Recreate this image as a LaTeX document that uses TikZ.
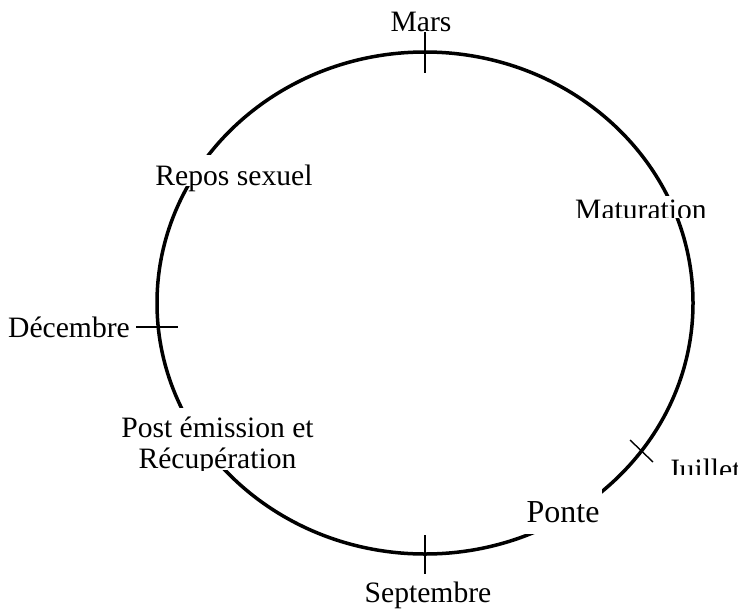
\documentclass[tikz,border=0pt]{standalone}
\usepackage{fontspec}
\setmainfont{Liberation Serif}
\begin{document}
\begin{tikzpicture}[x=1pt,y=-1pt,
  lbl/.style={inner sep=0pt, anchor=base, font=\fontsize{29.6}{33}\selectfont},
  biglbl/.style={inner sep=0pt, anchor=base, font=\fontsize{32}{36}\selectfont},
  ring/.style={line width=3.5pt},
  tick/.style={line width=1.4pt},
  cover/.style={fill=white}]
\useasboundingbox (0,0) rectangle (738,613);
% cycle
\draw[ring] (425,303) ellipse [x radius=268pt, y radius=251pt];
% white label boxes cutting the ring
\fill[cover] (145,155) rectangle (322,186);
\fill[cover] (568,196) rectangle (714,217.5);
\fill[cover] (118,408) rectangle (317,470);
\fill[cover] (520,489) rectangle (602,534);
% ticks
\coordinate (marsA) at (425,32);   \coordinate (marsB) at (425,73);
\coordinate (sepA) at (425,535);   \coordinate (sepB) at (425,574);
\coordinate (decA) at (136,327);   \coordinate (decB) at (178,327);
\coordinate (julA) at (630,440);   \coordinate (julB) at (653,462);
\draw[tick] (marsA) -- (marsB);
\draw[tick] (sepA) -- (sepB);
\draw[tick] (decA) -- (decB);
\draw[tick] (julA) -- (julB);
% month labels
\node[lbl] (mars) at (421,31) {Mars};
\node[lbl] (sept) at (428,602) {Septembre};
\node[lbl] (dec) at (69,337) {Décembre};
\begin{scope}
\clip (660,452) rectangle (738,474);
\node[lbl, anchor=base west] (juil) at (668,479.5) {Juillet};
\end{scope}
% phase labels
\node[lbl] (repos) at (234,185) {Repos sexuel};
\begin{scope}
\clip (568,196) rectangle (714,217.5);
\node[lbl] (matu) at (641,219) {Maturation};
\end{scope}
\node[lbl] (post1) at (217.5,437) {Post émission et};
\begin{scope}
\clip (118,408) rectangle (317,470);
\node[lbl] (post2) at (217.5,468) {Récupération};
\end{scope}
\node[biglbl] (ponte) at (563,522) {Ponte};
\end{tikzpicture}
\end{document}
